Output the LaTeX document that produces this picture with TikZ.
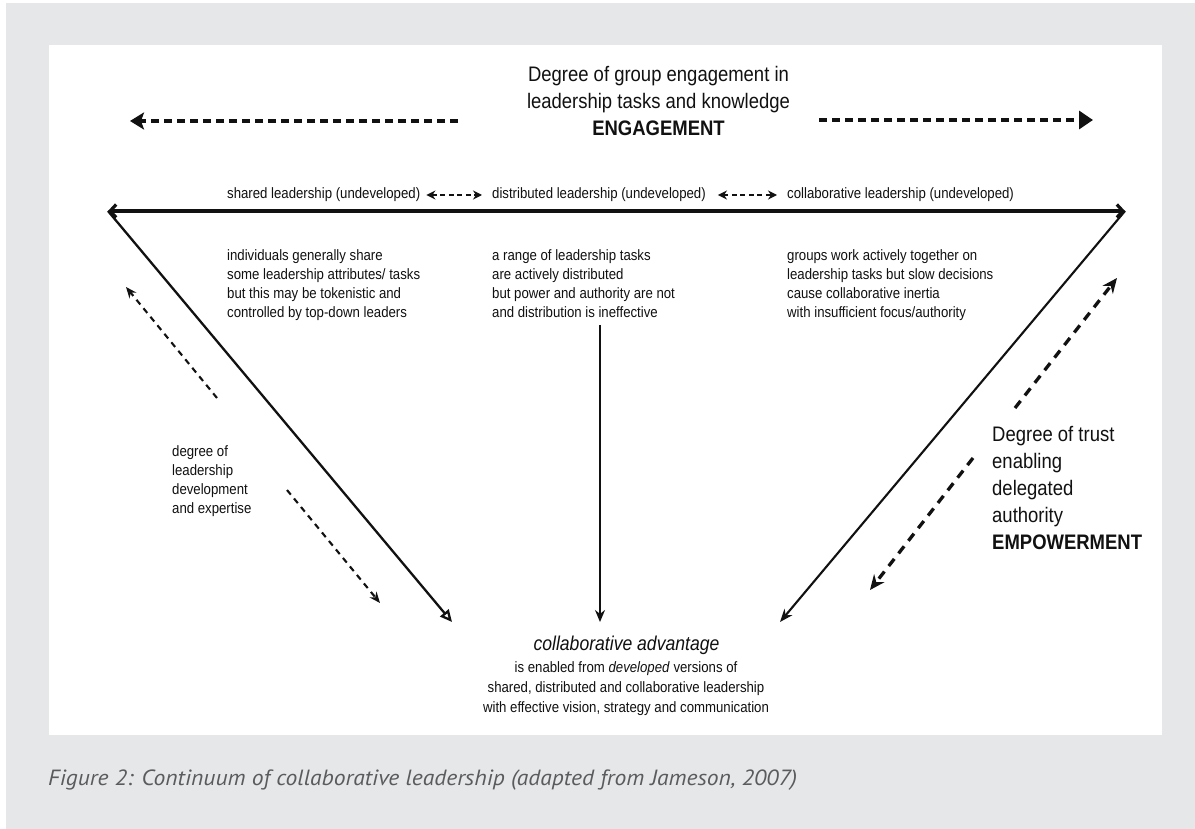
\documentclass[tikz,border=0pt]{standalone}
\usepackage{fontspec}
\usepackage{graphicx}
\setmainfont{Liberation Sans}[FakeStretch=0.88]
\newfontfamily\capfont{PT Sans}
\usetikzlibrary{arrows.meta}

\definecolor{pagegray}{HTML}{E6E7E8}
\definecolor{ink}{HTML}{111111}
\definecolor{capgray}{HTML}{5A5B5D}

\tikzset{
  body/.style={font=\fontsize{15}{19}\selectfont, text=ink, inner sep=0pt, align=left},
  big/.style={font=\fontsize{21}{27}\selectfont, text=ink, inner sep=0pt},
  bigdash/.style={draw=ink, line width=3.4pt, dash pattern=on 8pt off 5pt},
  dbl/.style={draw=ink, line width=1.8pt, dash pattern=on 5pt off 3.5pt,
    {Stealth[length=9pt,width=9pt]}-{Stealth[length=9pt,width=9pt]}},
  thindiag/.style={draw=ink, line width=2.1pt, dash pattern=on 6pt off 5pt,
    -{Stealth[length=11pt,width=9pt]}},
  thickdiag/.style={draw=ink, line width=3.3pt, dash pattern=on 9pt off 7pt,
    -{Stealth[length=15pt,width=13pt]}},
}

\begin{document}
\begin{tikzpicture}[x=1pt,y=-1pt]
\useasboundingbox (0,0) rectangle (1195,829);
% page and panel
\fill[white] (0,0) rectangle (1195,829);
\fill[pagegray] (6,3) rectangle (1195,829);
\fill[white] (49,45) rectangle (1162,735);

% heading
\node[big, align=center, anchor=north] (title) at (658.5,66)
  {Degree of group engagement in\\leadership tasks and knowledge\\\textbf{ENGAGEMENT}};

% engagement arrows
\coordinate (el0) at (458,121);
\coordinate (el1) at (130,121);
\coordinate (er0) at (819,120);
\coordinate (er1) at (1093,120);
\draw[bigdash, -{Stealth[length=14pt,width=17pt,inset=3pt]}] (el0) -- (el1);
\draw[bigdash, -{Triangle[length=14pt,width=18pt]}] (er0) -- (er1);

% row of leadership types
\node[body, anchor=west] (shl) at (227,195) {shared leadership (undeveloped)};
\node[body, anchor=west] (dil) at (492,195) {distributed leadership (undeveloped)};
\node[body, anchor=west] (col) at (787,195) {collaborative leadership (undeveloped)};
\draw[dbl] ([xshift=6pt]shl.east) -- ([xshift=-10pt]dil.west);
\draw[dbl] ([xshift=12pt]dil.east) -- ([xshift=-10pt]col.west);

% triangle corners and bottom targets
\coordinate (tl) at (108,211);
\coordinate (tr) at (1125,211);
\coordinate (bl) at (452,622);
\coordinate (br) at (780,622);
\coordinate (bc) at (600,622);
\coordinate (cv) at (600,325);

\draw[draw=ink, line width=3.2pt,
  {Straight Barb[length=6pt,width=13pt]}-{Straight Barb[length=6pt,width=13pt]}] (tl) -- (tr);
\draw[draw=ink, line width=2.3pt, -{Triangle[open,length=12pt,width=11pt]}] (tl) -- (bl);
\draw[draw=ink, line width=2.1pt, -{Stealth[length=13pt,width=10pt]}] (tr) -- (br);
\draw[draw=ink, line width=1.7pt, -{Stealth[length=12pt,width=10pt]}] (cv) -- (bc);

% descriptions
\node[body, anchor=north west] (shtxt) at (227,249)
  {individuals generally share\\some leadership attributes/ tasks\\but this may be tokenistic and\\controlled by top-down leaders};
\node[body, anchor=north west] (ditxt) at (492,249)
  {a range of leadership tasks\\are actively distributed\\but power and authority are not\\and distribution is ineffective};
\node[body, anchor=north west] (cotxt) at (787,249)
  {groups work actively together on\\leadership tasks but slow decisions\\cause collaborative inertia\\with insufficient focus/authority};

% development axis
\coordinate (dv0) at (217,398);
\coordinate (dv1) at (126,287);
\coordinate (dv2) at (287,490);
\coordinate (dv3) at (380,603);
\draw[thindiag] (dv0) -- (dv1);
\draw[thindiag] (dv2) -- (dv3);
\node[body, anchor=north west] (dev) at (172,445)
  {degree of\\leadership\\development\\and expertise};

% empowerment axis
\coordinate (em0) at (1015,408);
\coordinate (em1) at (1117,278);
\coordinate (em2) at (973,458);
\coordinate (em3) at (870,590);
\draw[thickdiag] (em0) -- (em1);
\draw[thickdiag] (em2) -- (em3);
\node[big, align=left, anchor=north west] (emp) at (992,426.5)
  {Degree of trust\\enabling\\delegated\\authority\\\textbf{EMPOWERMENT}};

% outcome
\node[font=\fontsize{20}{24}\selectfont\itshape, text=ink, inner sep=0pt, anchor=base] (ca) at (626.5,650)
  {collaborative advantage};
\node[font=\fontsize{15}{20}\selectfont, text=ink, inner sep=0pt, align=center, anchor=north] (catxt) at (626,661.7)
  {is enabled from \textit{developed} versions of\\shared, distributed and collaborative leadership\\with effective vision, strategy and communication};

% caption
\node[anchor=base west, inner sep=0pt, text=capgray] (cap) at (48,785)
  {\resizebox{749pt}{\height}{\capfont\itshape\fontsize{22}{26}\selectfont Figure 2: Continuum of collaborative leadership (adapted from Jameson, 2007)}};
\end{tikzpicture}
\end{document}
